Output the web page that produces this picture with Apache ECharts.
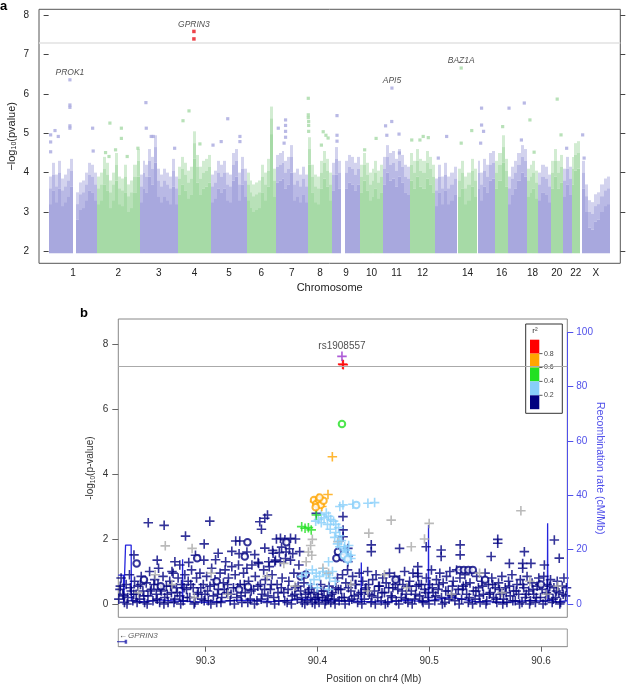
<!DOCTYPE html>
<html>
<head>
<meta charset="utf-8">
<script src="https://cdn.jsdelivr.net/npm/echarts@6/dist/echarts.min.js"></script>
<style>
  html, body { margin: 0; padding: 0; background: #fff; }
  #main { width: 628px; height: 685px; }
</style>
</head>
<body>
<div id="main"></div>
<script>
// ---- panel a : genome-wide scan ----
var chrNames = ['1','2','3','4','5','6','7','8','9','10','11','12','13','14','15','16','17','18','19','20','21','22','X'];
var shownChr = ['1','2','3','4','5','6','7','8','9','10','11','12','14','16','18','20','22','X'];
// chromosome spans on the plot axis (Mb, plot scale)
var chrStart = [0,267,500,711,894,1089,1249,1425,1560,1712,1840,1987,2125,2253,2359,2455,2528,2629,2693,2763,2827,2877,2931];
var chrEnd   = [267,500,711,894,1089,1249,1425,1560,1712,1840,1987,2125,2244,2354,2454,2528,2629,2693,2763,2827,2877,2922,3087];
// upper edge of the dense cloud of SNPs, read left to right in each chromosome (null = gap)
var chrTops = [
  [3.9,4.25,3.95,4.3,3.85,3.95,4.1,4.35,null,3.5,3.75,3.8,4.0,4.25,4.2,4.0],
  [3.9,4.0,4.4,4.25,3.8,4.0,4.5,3.9,3.85,4.2,3.7,3.8,4.2,4.6],
  [3.95,4.3,4.2,4.6,4.4,4.95,4.1,3.95,4.1,4.0,3.9,4.35,3.9],
  [4.15,4.4,4.25,4.05,4.15,5.05,4.45,4.15,4.3,4.35,4.45],
  [3.95,4.05,4.3,4.2,4.3,4.0,3.95,4.5,4.6,4.0,4.4,4.1],
  [4.0,3.8,3.7,3.75,3.8,4.2,4.0,4.35,5.68,4.1],
  [4.45,4.5,4.55,4.3,4.4,4.7,4.0,4.1,3.95,4.15,3.95],
  [4.9,4.2,3.95,3.9,4.3,4.55,4.35,4.0],
  [4.25,4.65,4.3,null,4.3,4.45,4.4,4.25,4.4],
  [4.2,4.5,4.25,4.0,4.1,4.3,4.05,4.2],
  [4.4,4.7,4.5,4.55,4.35,4.6,4.45,4.2,4.15],
  [4.5,4.3,4.6,4.35,4.3,4.55,4.4,4.2],
  [3.85,4.2,3.9,4.25,3.9,4.0,4.15],
  [4.1,4.3,3.9,4.0,4.35,4.1],
  [4.3,4.0,4.35,4.2,4.5,4.55],
  [4.3,4.5,4.95,4.35],
  [3.9,4.15,4.3,4.5,4.7,4.6],
  [4.1,4.2,4.3,4.05],
  [4.0,4.2,4.15,3.95],
  [4.3,4.6,4.3,4.45],
  [4.1,4.4,4.15],
  [4.4,4.75,4.8],
  [4.3,3.7,3.3,3.25,3.45,3.5,3.7,3.85,3.9]
];
// isolated SNPs above the cloud [position, -log10 p]
var looseSnps = [
  [117,5.72],[117,5.66],[117,5.19],[117,5.13],[35,5.07],[11,4.96],[11,4.78],[11,4.53],[53,4.92],[242,5.13],[245,4.55],
  [337,5.26],[400,5.13],[400,4.87],[313,4.51],[332,4.41],[368,4.58],[432,4.41],[491,4.62],
  [535,5.78],[537,5.13],[564,4.92],[575,4.92],[693,4.62],
  [739,5.32],[772,5.57],[832,4.73],
  [985,5.37],[949,4.79],[1052,4.92],[1052,4.79],[904,4.7],
  [1303,5.34],[1303,5.2],[1303,5.05],[1303,4.9],[1263,5.13],[1295,4.75],
  [1428,5.89],[1428,5.47],[1428,5.4],[1430,5.3],[1430,5.2],[1430,5.05],[1510,5.04],[1525,4.95],[1537,4.88],[1500,4.7],
  [1586,5.45],[1586,4.95],[1586,4.8],
  [1801,4.87],[1738,4.58],
  [1853,5.19],[1887,5.3],[1860,4.95],[1927,4.98],[1929,4.5],
  [1997,4.83],[2042,4.83],[2088,4.89],[2060,4.92],
  [2143,4.37],[2189,4.92],
  [2269,4.75],[2327,5.07],
  [2381,5.64],[2381,5.21],[2392,5.05],[2376,4.75],
  [2497,5.17],[2532,5.64],[2616,5.77],[2600,4.83],
  [2647,5.34],[2670,4.52],
  [2797,5.87],[2818,4.96],[2849,4.62],[2937,4.96],[2945,4.37]
];
var hitGenes = ['PROK1','API5','BAZ1A'];
var hitPos = [117,1888,2269];
var hitP = [6.36,6.15,6.66];
var topGene = 'GPRIN3';
var topPos = [799,799];
var topP = [7.59,7.40];
var gwsLine = 7.3;

// ---- panel b : regional plot chr4 ----
var indexSnp = 'rs1908557';
var indexPt = [90.422,7.62];
var redCross = [[90.4226,7.38],[90.4232,7.36]];
var greenCircle = [[90.422,5.54]];
var greenCross = [[90.386,2.38],[90.389,2.33],[90.392,2.35],[90.3945,2.28],[90.3991,2.74]];
var orangeCross = [[90.4134,4.53],[90.4095,3.37],[90.3975,3.15],[90.4005,3.25],[90.404,3.0]];
var orangeCircle = [[90.397,3.2],[90.399,3.08],[90.4015,3.2],[90.403,3.05],[90.4055,3.18],[90.3985,2.98],[90.402,3.28]];
var skyCross = [
  [90.4229,3.05],[90.4318,3.07],[90.4452,3.1],[90.4512,3.12],[90.4201,3.0],
  [90.3985,2.55],[90.401,2.6],[90.4035,2.75],[90.406,2.65],[90.408,2.8],[90.41,2.7],[90.412,2.6],[90.4145,2.55],
  [90.4165,2.45],[90.419,2.35],[90.4115,2.3],[90.4165,2.2],[90.42,2.1],[90.4215,1.95],[90.418,1.85],[90.424,1.7],
  [90.426,1.55],[90.427,1.35],[90.43,1.5],[90.4155,2.05],[90.409,2.45],[90.4035,2.5],
  [90.42,1.76],[90.425,1.65],[90.4275,1.5],[90.43,1.4],[90.428,1.8],[90.4244,1.76],
  [90.3955,1.05],[90.399,0.95],[90.402,0.85],[90.405,1.0],[90.408,0.9],[90.411,0.8],[90.397,0.75],[90.4135,1.0],
  [90.39,0.95],[90.386,0.85],[90.416,0.7],[90.394,0.6],[90.4,0.5],[90.41,0.45],[90.41,1.3]
];
var skyCircle = [[90.4348,3.05],[90.4235,1.5],[90.427,1.38]];
var greyCross = [
  [90.264,1.79],[90.288,1.71],[90.466,2.58],[90.582,2.87],[90.5,2.48],[90.446,2.18],[90.484,1.76],[90.4958,2.0],
  [90.3955,1.99],[90.394,1.8],[90.392,1.6],[90.4184,1.92],
  [90.24,0.35],[90.255,0.9],[90.27,0.6],[90.29,0.2],[90.305,0.95],[90.32,0.3],[90.355,0.85],[90.37,1.25],[90.38,0.55],
  [90.39,1.3],[90.395,1.5],[90.405,1.1],[90.41,0.95],[90.43,0.6],[90.445,0.4],[90.46,0.9],[90.48,0.5],[90.52,0.3],
  [90.545,0.95],[90.565,0.35],[90.59,0.7],[90.605,0.3],[90.615,0.55]
];
var navyCircle = [
  [90.2384,1.25],[90.3375,1.9],[90.3723,1.9],[90.3351,1.46],[90.2925,1.41],[90.3896,0.91],[90.338,0.53],
  [90.4184,1.61],[90.4223,1.44],[90.417,1.41],[90.527,1.05],[90.531,1.05],[90.535,1.05],[90.539,1.05],
  [90.245,0.75],[90.26,0.55],[90.31,0.7],[90.33,0.45],[90.385,0.85],[90.47,0.75],[90.55,0.75],[90.6,0.6]
];
var navyCross = [
  [90.2488,2.5],[90.263,2.42],[90.3038,2.55],[90.2821,2.09],[90.2988,1.85],[90.327,1.94],[90.3306,1.94],
  [90.3485,2.53],[90.3554,2.74],[90.353,2.64],[90.35,2.3],[90.3634,2.0],[90.367,2.02],[90.371,1.98],[90.376,2.02],
  [90.3805,2.0],[90.3842,1.61],[90.2568,1.35],[90.236,1.51],[90.2726,1.3],[90.3113,1.56],[90.3604,1.56],[90.366,1.58],
  [90.372,1.6],[90.378,1.55],[90.399,2.79],[90.3235,1.62],[90.33,1.55],[90.337,1.6],[90.344,1.52],[90.309,1.36],
  [90.318,1.3],[90.291,1.5],[90.2985,1.35],[90.277,1.2],[90.285,1.28],[90.258,1.1],[90.27,1.0],[90.347,1.28],
  [90.357,1.15],[90.362,1.3],[90.353,1.72],[90.36,1.65],[90.368,1.75],[90.375,1.7],
  [90.4229,2.69],[90.423,2.28],[90.423,2.07],[90.4482,1.82],[90.4482,1.61],[90.4735,1.71],[90.4973,1.76],
  [90.5107,1.66],[90.5107,1.46],[90.5277,1.82],[90.5277,1.51],[90.5613,1.99],[90.5613,1.87],[90.5554,1.46],
  [90.5717,1.25],[90.5851,1.61],[90.5836,1.25],[90.5836,1.1],[90.591,1.25],[90.603,1.2],[90.6119,1.97],
  [90.6163,1.41],[90.4898,1.15],[90.4898,0.94],[90.4273,1.71],[90.4273,1.46],[90.4273,1.3],
  [90.2225,0.15],[90.2235,0.45],[90.2245,0.8],[90.226,0.3],[90.2275,0.05],[90.229,0.6],[90.2305,0.2],[90.232,0.9],
  [90.2335,0.4],[90.235,0.1],[90.2365,0.7],[90.238,0.3],[90.2395,0.55],
  [90.241,0.15],[90.2425,0.85],[90.244,0.4],[90.2455,0.05],[90.247,0.65],[90.2485,0.25],[90.25,1.0],[90.2515,0.45],
  [90.253,0.1],[90.2545,0.75],[90.256,0.3],[90.2575,0.6],[90.259,0.05],
  [90.2605,0.4],[90.262,0.85],[90.2635,0.2],[90.265,0.55],[90.2665,0.05],[90.268,0.7],[90.2695,0.35],[90.271,0.95],
  [90.2725,0.15],[90.274,0.5],[90.2755,0.8],[90.277,0.25],[90.2785,0.6],
  [90.28,0.1],[90.2815,0.9],[90.283,0.45],[90.2845,0.7],[90.286,0.2],[90.2875,1.05],[90.289,0.5],[90.2905,0.05],
  [90.292,0.8],[90.2935,0.35],[90.295,0.95],[90.2965,0.15],[90.298,0.6],
  [90.2995,0.3],[90.301,0.85],[90.3025,0.1],[90.304,0.55],[90.3055,1.1],[90.307,0.25],[90.3085,0.75],[90.31,0.05],
  [90.3115,0.45],[90.313,0.95],[90.3145,0.2],[90.316,0.65],[90.3175,1.05],
  [90.319,0.35],[90.3205,0.8],[90.322,0.1],[90.3235,1.15],[90.325,0.5],[90.3265,0.9],[90.328,0.2],[90.3295,1.2],
  [90.331,0.6],[90.3325,0.05],[90.334,0.95],[90.3355,0.35],[90.337,1.1],[90.3385,0.7],
  [90.34,0.15],[90.3415,1.2],[90.343,0.45],[90.3445,0.85],[90.346,0.1],[90.3475,1.25],[90.349,0.6],[90.3505,0.3],
  [90.352,1.05],[90.3535,0.75],[90.355,0.05],[90.3565,1.3],[90.358,0.45],
  [90.3595,0.9],[90.361,0.2],[90.3625,1.35],[90.364,0.6],[90.3655,0.1],[90.367,1.3],[90.3685,0.8],[90.37,0.35],
  [90.3715,1.4],[90.373,0.05],[90.3745,0.7],[90.376,1.35],[90.3775,0.25],[90.379,0.95],
  [90.3805,0.5],[90.382,0.15],[90.3835,1.2],[90.385,0.4],[90.3865,0.05],[90.388,0.65],[90.3895,0.3],[90.391,0.1],
  [90.3925,0.45],[90.394,0.2],[90.3955,0.05],[90.397,0.35],[90.3985,0.15],
  [90.4,0.3],[90.4015,0.05],[90.403,0.6],[90.4045,0.2],[90.406,0.4],[90.4075,0.1],[90.409,0.25],[90.4105,0.55],
  [90.412,0.05],[90.4135,0.35],[90.415,0.15],[90.4165,0.5],[90.418,0.8],[90.4195,0.1],
  [90.421,0.45],[90.4225,0.9],[90.424,0.2],[90.4255,0.65],[90.427,1.05],[90.4285,0.1],[90.43,0.4],[90.4315,0.85],
  [90.433,0.25],[90.4345,0.6],[90.436,0.05],[90.4375,0.95],[90.439,0.35],
  [90.4405,0.7],[90.442,0.15],[90.4435,0.5],[90.445,1.0],[90.4465,0.3],[90.448,0.05],[90.4495,0.75],[90.451,0.4],
  [90.4525,0.9],[90.454,0.2],[90.4555,0.55],[90.457,0.1],[90.4585,0.8],
  [90.46,0.35],[90.4615,0.65],[90.463,0.05],[90.4645,0.95],[90.466,0.25],[90.4675,0.5],[90.469,0.85],[90.4705,0.1],
  [90.472,0.45],[90.4735,0.75],[90.475,0.2],[90.4765,0.6],[90.478,1.0],
  [90.4795,0.3],[90.481,0.05],[90.4825,0.7],[90.484,0.4],[90.4855,0.95],[90.487,0.15],[90.4885,0.55],[90.49,0.85],
  [90.4915,0.25],[90.493,0.6],[90.4945,0.05],[90.496,0.45],[90.4975,0.8],
  [90.499,0.2],[90.5005,0.6],[90.502,1.05],[90.5035,0.35],[90.505,0.1],[90.5065,0.75],[90.508,0.45],[90.5095,0.95],
  [90.511,0.2],[90.5125,0.65],[90.514,0.05],[90.5155,0.85],[90.517,0.4],[90.5185,1.0],
  [90.52,0.25],[90.5215,0.7],[90.523,0.1],[90.5245,1.05],[90.526,0.45],[90.5275,0.8],[90.529,0.15],[90.5305,0.55],
  [90.532,0.9],[90.5335,0.3],[90.535,0.05],[90.5365,0.65],[90.538,1.0],[90.5395,0.4],
  [90.541,0.15],[90.5425,0.85],[90.544,0.5],[90.5455,0.05],[90.547,0.7],[90.5485,0.3],[90.55,0.95],[90.5515,0.1],
  [90.553,0.6],[90.5545,0.35],[90.556,0.8],[90.5575,0.2],[90.559,0.5],
  [90.5605,0.05],[90.562,0.65],[90.5635,0.3],[90.565,0.85],[90.5665,0.15],[90.568,0.5],[90.5695,0.05],[90.571,0.7],
  [90.5725,0.25],[90.574,0.9],[90.5755,0.4],[90.577,0.1],[90.5785,0.6],
  [90.58,0.3],[90.5815,0.75],[90.583,0.05],[90.5845,0.5],[90.586,0.2],[90.5875,0.85],[90.589,0.4],[90.5905,0.1],
  [90.592,0.65],[90.5935,0.3],[90.595,0.05],[90.5965,0.55],[90.598,0.8],
  [90.5995,0.2],[90.601,0.45],[90.6025,0.85],[90.604,0.1],[90.6055,0.6],[90.607,0.3],[90.6085,0.75],[90.61,0.05],
  [90.6115,0.5],[90.613,0.2],[90.6145,0.7],[90.616,0.35],[90.6175,0.05],[90.619,0.55],[90.6205,0.8],[90.622,0.25]
];
// second layer of the dense band near zero
var navyBand = [
  [90.2238,0.55],[90.2268,0.25],[90.2298,0.0],[90.2328,0.5],[90.2358,0.3],[90.2388,0.05],[90.2418,0.6],[90.2448,0.25],
  [90.2478,0.0],[90.2508,0.4],[90.2538,0.6],[90.2568,0.15],[90.2598,0.45],[90.2628,0.0],[90.2658,0.3],[90.2688,0.55],
  [90.2718,0.05],[90.2748,0.35],[90.2778,0.0],[90.2808,0.5],[90.2838,0.2],[90.2868,0.6],[90.2898,0.0],[90.2928,0.3],
  [90.2958,0.5],[90.2988,0.1],[90.3018,0.4],[90.3048,0.0],[90.3078,0.6],[90.3108,0.3],[90.3138,0.05],[90.3168,0.45],
  [90.3198,0.6],[90.3228,0.3],[90.3258,0.0],[90.3288,0.5],[90.3318,0.25],[90.3348,0.6],[90.3378,0.05],[90.3408,0.4],
  [90.3438,0.0],[90.3468,0.55],[90.3498,0.15],[90.3528,0.45],[90.3558,0.25],[90.3588,0.6],[90.3618,0.0],[90.3648,0.35],
  [90.3678,0.5],[90.3708,0.1],[90.3738,0.45],[90.3768,0.0],[90.3798,0.3],[90.3828,0.55],[90.3858,0.2],[90.3888,0.0],
  [90.3918,0.35],[90.3948,0.5],[90.3978,0.0],[90.4008,0.2],[90.4038,0.4],[90.4068,0.0],[90.4098,0.15],[90.4128,0.3],
  [90.4158,0.0],[90.4188,0.45],[90.4218,0.2],[90.4248,0.0],[90.4278,0.5],[90.4308,0.15],[90.4338,0.6],[90.4368,0.3],
  [90.4398,0.0],[90.4428,0.45],[90.4458,0.6],[90.4488,0.25],[90.4518,0.0],[90.4548,0.55],[90.4578,0.35],[90.4608,0.0],
  [90.4638,0.5],[90.4668,0.2],[90.4698,0.6],[90.4728,0.0],[90.4758,0.4],[90.4788,0.15],[90.4818,0.55],[90.4848,0.0],
  [90.4878,0.3],[90.4908,0.6],[90.4938,0.1],[90.4968,0.35],[90.4998,0.0],[90.5028,0.5],[90.5058,0.25],[90.5088,0.6],
  [90.5118,0.0],[90.5148,0.4],[90.5178,0.15],[90.5208,0.55],[90.5238,0.3],[90.5268,0.0],[90.5298,0.45],[90.5328,0.6],
  [90.5358,0.2],[90.5388,0.0],[90.5418,0.4],[90.5448,0.25],[90.5478,0.55],[90.5508,0.0],[90.5538,0.3],[90.5568,0.6],
  [90.5598,0.15],[90.5628,0.45],[90.5658,0.0],[90.5688,0.35],[90.5718,0.55],[90.5748,0.1],[90.5778,0.4],[90.5808,0.0],
  [90.5838,0.6],[90.5868,0.3],[90.5898,0.0],[90.5928,0.45],[90.5958,0.2],[90.5988,0.6],[90.6018,0.0],[90.6048,0.35],
  [90.6078,0.55],[90.6108,0.15],[90.6138,0.4],[90.6168,0.0],[90.6198,0.3],[90.6228,0.5]
];
// recombination rate (cM/Mb)
var recombRate = [
  [90.222,10.6],[90.2266,10.6],[90.2268,0.6],[90.2283,0.6],[90.2285,21.7],[90.2335,21.7],[90.2337,1.2],[90.245,0.8],
  [90.26,1.5],[90.2793,0.9],[90.2795,16.5],[90.2797,1.1],[90.3,0.6],[90.33,1.4],[90.36,0.9],[90.39,1.8],[90.41,1.2],
  [90.4391,1.0],[90.4393,15.3],[90.4395,1.0],[90.46,0.7],[90.48,1.3],[90.4992,0.8],[90.4994,29.1],[90.4996,1.2],
  [90.52,2.5],[90.54,1.0],[90.57,0.6],[90.59,1.3],[90.6057,1.0],[90.6059,29.7],[90.6061,1.5],[90.615,0.8],[90.6235,1.2]
];
var recombTicks = [0, 20, 40, 60, 80, 100];
var geneName = 'GPRIN3';
var geneEnd = 90.2288;
var ldLabels = ['0.8','0.6','0.4','0.2'];
var ldColors = ['#ff0000','#ffa500','#22e022','#87cefa','#000080'];

var FONT = 'Liberation Sans, Arial, sans-serif';
var PURPLE = '#a8a8de', GREEN = '#a6daa6';
var CROSS = 'path://M0,4.15H10V5.85H0Z M4.15,0H5.85V10H4.15Z';
var NAVY = '#000080';
var RECOMB = '#2424dd';
var RAXIS = '#5050ea';

var chart = echarts.init(document.getElementById('main'), null, { renderer: 'canvas' });

var chrMid = chrNames.map(function (n, i) { return (chrStart[i] + chrEnd[i]) / 2; });
var shownMid = shownChr.map(function (n) { return chrMid[chrNames.indexOf(n)]; });

function chrOf(x) {
  for (var i = 0; i < chrStart.length; i++) {
    if (x >= chrStart[i] - 1 && x <= chrEnd[i] + 1) return i;
  }
  return 0;
}

var cols = [];
chrTops.forEach(function (tops, i) {
  var w = (chrEnd[i] - chrStart[i]) / tops.length;
  tops.forEach(function (t, j) {
    if (t == null) return;
    cols.push([chrStart[i] + j * w, chrStart[i] + (j + 1) * w, t, i % 2]);
  });
});

var looseData = looseSnps.map(function (d) {
  return { value: d, itemStyle: { color: chrOf(d[0]) % 2 ? GREEN : PURPLE } };
});
var hitData = hitGenes.map(function (g, i) {
  return { value: [hitPos[i], hitP[i]], name: g, itemStyle: { color: chrOf(hitPos[i]) % 2 ? GREEN : PURPLE } };
});
var topData = topPos.map(function (x, i) {
  return { value: [x, topP[i]], name: i === 0 ? topGene : '' };
});

function crossSeries(name, data, color) {
  return {
    name: name, type: 'scatter', xAxisIndex: 1, yAxisIndex: 2,
    symbol: CROSS, symbolSize: 9.5, data: data,
    itemStyle: { color: color }, silent: true, z: 3
  };
}
function circleSeries(name, data, color) {
  return {
    name: name, type: 'scatter', xAxisIndex: 1, yAxisIndex: 2,
    symbol: 'emptyCircle', symbolSize: 6.5, data: data,
    itemStyle: { color: color, borderColor: color, borderWidth: 1 }, silent: true, z: 3
  };
}

var legendChildren = [
  { type: 'rect', shape: { x: 525.7, y: 324, width: 36.6, height: 89.3 }, style: { fill: '#fff', stroke: '#333', lineWidth: 1 } },
  { type: 'text', x: 535, y: 331, style: { text: 'r²', font: '8px ' + FONT, fill: '#333', align: 'center', verticalAlign: 'middle' } }
];
ldColors.forEach(function (c, i) {
  legendChildren.push({ type: 'rect', shape: { x: 530, y: 339.7 + i * 13.9, width: 9.3, height: 13.9 }, style: { fill: c } });
});
ldLabels.forEach(function (t, i) {
  var yy = 339.7 + (i + 1) * 13.9;
  legendChildren.push({ type: 'line', shape: { x1: 539.3, y1: yy, x2: 542.5, y2: yy }, style: { stroke: '#333', lineWidth: 0.8 } });
  legendChildren.push({ type: 'text', x: 544, y: yy, style: { text: t, font: '7px ' + FONT, fill: '#444', verticalAlign: 'middle' } });
});

var option = {
  animation: false,
  textStyle: { fontFamily: FONT },
  title: [
    { text: 'a', left: 0, top: 0, padding: 0, textStyle: { fontSize: 13, fontWeight: 'bold', color: '#000', fontFamily: FONT } },
    { text: 'b', left: 80, top: 307, padding: 0, textStyle: { fontSize: 13, fontWeight: 'bold', color: '#000', fontFamily: FONT } }
  ],
  grid: [
    { left: 39, top: 9.3, width: 581.3, height: 254, show: true, borderColor: '#555', borderWidth: 1,
      containLabel: false, outerBoundsMode: 'none' },
    { left: 118.3, top: 319, width: 449, height: 298.3, show: true, borderColor: '#888', borderWidth: 1,
      containLabel: false, outerBoundsMode: 'none' },
    { left: 118.3, top: 629, width: 449, height: 17.7, show: true, borderColor: '#999', borderWidth: 1,
      containLabel: false, outerBoundsMode: 'none' }
  ],
  xAxis: [
    {
      gridIndex: 0, type: 'value', min: -53, max: 3144,
      axisLine: { show: false }, axisTick: { show: false }, splitLine: { show: false },
      axisLabel: {
        customValues: shownMid, margin: 5, fontSize: 10, color: '#222',
        formatter: function (v) {
          var k = shownMid.indexOf(v);
          return k >= 0 ? shownChr[k] : '';
        }
      },
      name: 'Chromosome', nameLocation: 'middle', nameGap: 19, nameMoveOverlap: false,
      nameTextStyle: { fontSize: 11, color: '#222' }
    },
    {
      gridIndex: 1, type: 'value', min: 90.222, max: 90.6235, show: false, splitLine: { show: false }
    },
    {
      gridIndex: 2, type: 'value', min: 90.222, max: 90.6235,
      axisLine: { show: true, lineStyle: { color: '#999' } },
      axisTick: { show: true, customValues: [90.3, 90.4, 90.5, 90.6], length: 5, lineStyle: { color: '#666' } },
      axisLabel: { customValues: [90.3, 90.4, 90.5, 90.6], margin: 10, fontSize: 10, color: '#333',
        formatter: function (v) { return v.toFixed(1); } },
      splitLine: { show: false },
      name: 'Position on chr4 (Mb)', nameLocation: 'middle', nameGap: 28, nameMoveOverlap: false,
      nameTextStyle: { fontSize: 10, color: '#333', padding: [0, 0, 0, 62] }
    }
  ],
  yAxis: [
    {
      gridIndex: 0, type: 'value', min: 1.695, max: 8.153,
      axisLine: { show: false }, splitLine: { show: false },
      axisTick: { show: true, customValues: [2, 3, 4, 5, 6, 7, 8], length: 5, lineStyle: { color: '#444' } },
      axisLabel: { customValues: [2, 3, 4, 5, 6, 7, 8], margin: 10, fontSize: 10, color: '#222' },
      name: '−log{s|10}(pvalue)', nameLocation: 'middle', nameGap: 21, nameRotate: 90, nameMoveOverlap: false,
      nameTextStyle: { fontSize: 11, color: '#222', rich: { s: { fontSize: 7, padding: [5, 0, 0, 0] } } }
    },
    {
      gridIndex: 0, type: 'value', min: 1.695, max: 8.153, position: 'right',
      axisLine: { show: false }, splitLine: { show: false },
      axisTick: { show: true, customValues: [2, 3, 4, 5, 6, 7, 8], length: 5, lineStyle: { color: '#444' } },
      axisLabel: { show: false }
    },
    {
      gridIndex: 1, type: 'value', min: -0.409, max: 8.769,
      axisLine: { show: false }, splitLine: { show: false },
      axisTick: { show: true, customValues: [0, 2, 4, 6, 8], length: 6, lineStyle: { color: '#666' } },
      axisLabel: { customValues: [0, 2, 4, 6, 8], margin: 10, fontSize: 10, color: '#333' },
      name: '-log{s|10}(p-value)', nameLocation: 'middle', nameGap: 22, nameRotate: 90, nameMoveOverlap: false,
      nameTextStyle: { fontSize: 10, color: '#333', rich: { s: { fontSize: 6.5, padding: [5, 0, 0, 0] } } }
    },
    {
      gridIndex: 1, type: 'value', min: -4.895, max: 104.9, position: 'right',
      axisLine: { show: false }, splitLine: { show: false },
      axisTick: { show: true, customValues: recombTicks, length: 6, lineStyle: { color: RAXIS } },
      axisLabel: { customValues: recombTicks, margin: 9, fontSize: 10, color: RAXIS },
      name: 'Recombination rate (cM/Mb)', nameLocation: 'middle', nameGap: 27, nameRotate: -90, nameMoveOverlap: false,
      nameTextStyle: { fontSize: 10.5, color: RAXIS }
    },
    {
      gridIndex: 2, type: 'value', min: 0, max: 1, show: false, splitLine: { show: false }
    }
  ],
  graphic: [{ type: 'group', z: 100, children: legendChildren }],
  series: [
    {
      name: 'cloud', type: 'custom', xAxisIndex: 0, yAxisIndex: 0, silent: true,
      data: cols, encode: { x: [0, 1], y: 2 },
      renderItem: function (params, api) {
        var x0 = api.value(0), x1 = api.value(1), top = api.value(2);
        var col = api.value(3) ? GREEN : PURPLE;
        var pb = api.coord([x0, 1.95]);
        var p1 = api.coord([x1, top - 0.7]);
        var p2 = api.coord([x1, top - 0.3]);
        var pt = api.coord([x1, top]);
        var xl = Math.round(pb[0]), w = Math.round(pt[0]) - xl;
        return {
          type: 'group',
          children: [
            { type: 'rect', shape: { x: xl, y: p1[1], width: w, height: pb[1] - p1[1] }, style: { fill: col } },
            { type: 'rect', shape: { x: xl, y: p2[1], width: w, height: p1[1] - p2[1] }, style: { fill: col, opacity: 0.8 } },
            { type: 'rect', shape: { x: xl, y: pt[1], width: w, height: p2[1] - pt[1] }, style: { fill: col, opacity: 0.5 } }
          ]
        };
      },
      markLine: {
        silent: true, symbol: 'none', label: { show: false },
        lineStyle: { color: '#e2e2e2', width: 1.5, type: 'solid' },
        data: [{ yAxis: gwsLine }]
      }
    },
    {
      name: 'loose', type: 'scatter', xAxisIndex: 0, yAxisIndex: 0, symbol: 'rect', symbolSize: 3.2,
      data: looseData, silent: true
    },
    {
      name: 'hits', type: 'scatter', xAxisIndex: 0, yAxisIndex: 0, symbol: 'rect', symbolSize: 3.2,
      data: hitData, silent: true,
      label: { show: true, position: 'top', distance: 1, formatter: '{b}', fontSize: 8.5, fontStyle: 'italic', color: '#222' }
    },
    {
      name: 'top', type: 'scatter', xAxisIndex: 0, yAxisIndex: 0, symbol: 'rect', symbolSize: 3.5,
      data: topData, silent: true, itemStyle: { color: '#e8141c' },
      label: { show: true, position: 'top', distance: 1, formatter: '{b}', fontSize: 8.5, fontStyle: 'italic', color: '#222' }
    },
    {
      name: 'recomb', type: 'line', xAxisIndex: 1, yAxisIndex: 3, data: recombRate,
      showSymbol: false, symbol: 'none', lineStyle: { color: RECOMB, width: 1.3 }, silent: true, z: 2,
      markLine: {
        silent: true, symbol: 'none', label: { show: false },
        lineStyle: { color: RAXIS, width: 1, type: 'solid' },
        data: [[{ coord: [90.6235, recombTicks[0]] }, { coord: [90.6235, recombTicks[recombTicks.length - 1]] }]]
      }
    },
    Object.assign(crossSeries('navy', navyCross.concat(navyBand), NAVY), {
      markLine: {
        silent: true, symbol: 'none', label: { show: false },
        lineStyle: { color: '#aaa', width: 1, type: 'solid' },
        data: [{ yAxis: gwsLine }]
      }
    }),
    circleSeries('navyo', navyCircle, NAVY),
    crossSeries('grey', greyCross, '#a9a9a9'),
    crossSeries('sky', skyCross, '#87cefa'),
    circleSeries('skyo', skyCircle, '#87cefa'),
    crossSeries('green', greenCross, '#22e022'),
    circleSeries('greeno', greenCircle, '#22e022'),
    crossSeries('orange', orangeCross, '#ffa500'),
    circleSeries('orangeo', orangeCircle, '#ffa500'),
    crossSeries('red', redCross, '#ff0000'),
    Object.assign(crossSeries('index', [{ value: indexPt, name: indexSnp }], '#9933cc'), {
      label: { show: true, position: 'top', distance: 0, formatter: '{b}', fontSize: 10, color: '#222' }
    }),
    {
      name: 'gene', type: 'line', xAxisIndex: 2, yAxisIndex: 4,
      data: [[90.2, 0.28], [geneEnd, 0.28]], showSymbol: false, symbol: 'none',
      lineStyle: { color: '#2a2ab0', width: 1 }, silent: true
    },
    {
      name: 'exon', type: 'scatter', xAxisIndex: 2, yAxisIndex: 4, symbol: 'rect', symbolSize: [2.5, 4],
      data: [[geneEnd, 0.28]], itemStyle: { color: '#2a2ab0' }, silent: true
    },
    {
      name: 'genelabel', type: 'scatter', xAxisIndex: 2, yAxisIndex: 4, symbolSize: 0,
      data: [{ value: [90.2226, 0.62], name: geneName }], silent: true,
      label: {
        show: true, position: 'right', distance: 0,
        formatter: '{a|←}{g|{b}}',
        rich: { a: { fontSize: 8, color: '#000' }, g: { fontSize: 8, fontStyle: 'italic', color: '#333', padding: [0, 0, 0, 1] } }
      }
    }
  ]
};

chart.setOption(option);
</script>
</body>
</html>
